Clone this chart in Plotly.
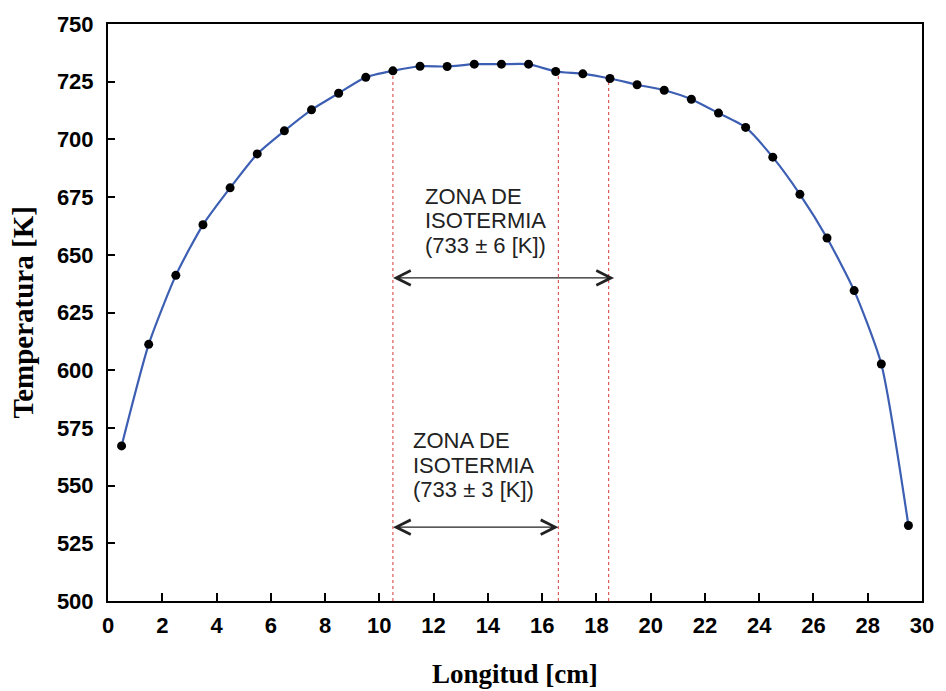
import plotly.graph_objects as go

# Data
longitud = [0.5, 1.5, 2.5, 3.5, 4.5, 5.5, 6.5, 7.5, 8.5, 9.5,
            10.5, 11.5, 12.5, 13.5, 14.5, 15.5, 16.5, 17.5, 18.5, 19.5,
            20.5, 21.5, 22.5, 23.5, 24.5, 25.5, 26.5, 27.5, 28.5, 29.5]
temperatura = [567.2, 611.2, 641.1, 663.0, 679.0, 693.7, 703.7, 712.8, 720.0, 726.9,
               729.7, 731.7, 731.6, 732.6, 732.6, 732.6, 729.4, 728.4, 726.4, 723.7,
               721.3, 717.4, 711.4, 705.2, 692.3, 676.2, 657.3, 634.5, 602.7, 532.7]

# Isotherm zone limits (x positions of dotted lines and their top on the curve)
zona_x = [10.5, 16.6, 18.45]
zona_top = [729.7, 729.2, 726.6]

# Arrow spans
arrow6 = dict(x0=10.45, x1=18.65, y=640)
arrow3 = dict(x0=10.45, x1=16.6, y=532)

# Text blocks: lines and their y positions
zona6_lines = ["ZONA DE", "ISOTERMIA", "(733 ± 6 [K])"]
zona6_y = [675.4, 664.7, 653.9]
zona6_x = 11.62
zona3_lines = ["ZONA DE", "ISOTERMIA", "(733 ± 3 [K])"]
zona3_y = [569.7, 558.9, 548.1]
zona3_x = 11.15

x_ticks = list(range(0, 31, 2))
y_ticks = list(range(500, 751, 25))

fig = go.Figure()

# dotted red vertical lines
for xv, yt in zip(zona_x, zona_top):
    fig.add_trace(go.Scatter(x=[xv, xv], y=[500, yt], mode="lines",
                             line=dict(color="#e05a5a", width=1.2, dash="dot"),
                             hoverinfo="skip", showlegend=False))

fig.add_trace(go.Scatter(
    x=longitud, y=temperatura, mode="lines+markers",
    line=dict(color="#3d5fb3", width=2.2, shape="spline", smoothing=0.6),
    marker=dict(color="black", size=9),
    showlegend=False))

annotations = []
for a in (arrow6, arrow3):
    annotations.append(dict(
        x=a["x1"], y=a["y"], ax=a["x0"], ay=a["y"],
        xref="x", yref="y", axref="x", ayref="y",
        text="", showarrow=True, arrowhead=5, startarrowhead=5,
        arrowside="end+start", arrowsize=2.6, startarrowsize=2.6,
        arrowwidth=1.1, arrowcolor="#222222", standoff=0, startstandoff=0))

txt_font = dict(family="Liberation Sans, Arial, sans-serif", size=22, color="#222222")
for lines, ys, xl in ((zona6_lines, zona6_y, zona6_x), (zona3_lines, zona3_y, zona3_x)):
    for t, yv in zip(lines, ys):
        annotations.append(dict(x=xl, y=yv, xref="x", yref="y", xanchor="left", yanchor="middle",
                                align="left", showarrow=False, font=txt_font, text=t))

title_font = dict(family="Liberation Serif, Times New Roman, serif", size=27, color="black")
annotations.append(dict(x=0, y=0.5, xref="paper", yref="paper", xanchor="center", yanchor="middle",
                        xshift=-86, textangle=-90, showarrow=False,
                        font=dict(family=title_font["family"], size=29, color="black"),
                        text="<b>Temperatura [K]</b>"))
annotations.append(dict(x=0.5, y=0, xref="paper", yref="paper", xanchor="center", yanchor="middle",
                        yshift=-73, showarrow=False, font=title_font,
                        text="<b>Longitud [cm]</b>"))

tick_font = dict(family="Liberation Sans, Arial, sans-serif", size=22, color="black", weight="bold")

fig.update_layout(
    width=946, height=691,
    margin=dict(l=108, r=14, t=21, b=90),
    paper_bgcolor="white", plot_bgcolor="white",
    annotations=annotations,
    xaxis=dict(range=[0, 30], tickvals=x_ticks, ticks="inside", ticklen=8, tickwidth=1.5,
               tickcolor="black", showline=True, linecolor="black", linewidth=2, mirror=True,
               showgrid=False, zeroline=False, tickfont=tick_font, ticklabelstandoff=4),
    yaxis=dict(range=[500, 750], tickvals=y_ticks, ticks="inside", ticklen=7, tickwidth=1.5,
               tickcolor="black", showline=True, linecolor="black", linewidth=2, mirror=True,
               showgrid=False, zeroline=False, tickfont=tick_font, ticklabelstandoff=8),
)

fig.write_html("out.html")
